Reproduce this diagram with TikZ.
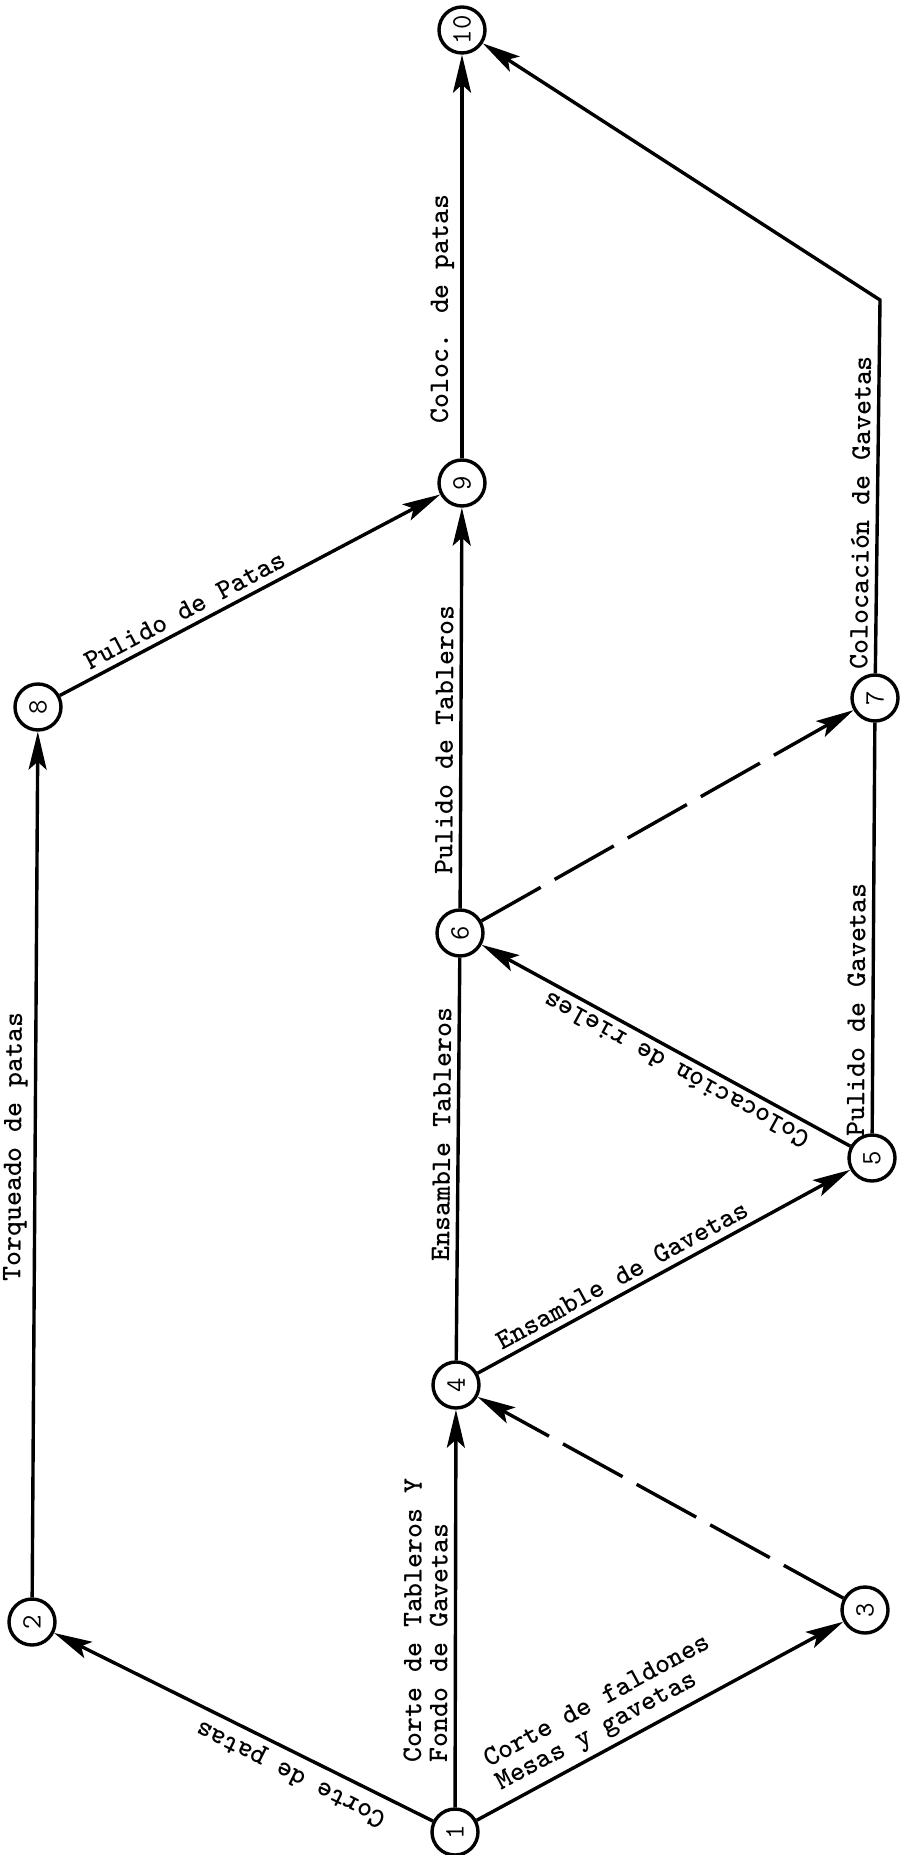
\documentclass[tikz,border=0pt]{standalone}
\usepackage{fontspec}
\usetikzlibrary{arrows.meta}

\tikzset{
    event/.style={circle, draw, line width=1.7pt, minimum size=23pt, inner sep=0pt, rotate=90,
        font=\ttfamily\fontsize{14}{14}\selectfont},
    act/.style={line width=1.7pt, -{Stealth[length=19pt,width=9pt,inset=4pt]}},
    dummy/.style={act, dash pattern=on 34pt off 8pt},
    plain/.style={line width=1.7pt},
    lbl/.style={sloped, allow upside down, inner sep=3pt, align=left,
        font=\ttfamily\bfseries\fontsize{14.2}{13}\selectfont}
}

\begin{document}
\begin{tikzpicture}[x=0.5pt, y=-0.5pt]
    \useasboundingbox (0,0) rectangle (910,1855);

    % Events
    \node (n1) [event] at (455,1832) {1};
    \node (n2) [event] at (32,1622) {2};
    \node (n3) [event] at (865,1610) {3};
    \node (n4) [event] at (456,1385) {4};
    \node (n5) [event] at (872,1158) {5};
    \node (n6) [event] at (460,933) {6};
    \node (n7) [event] at (875,698) {7};
    \node (n8) [event] at (38,707) {8};
    \node (n9) [event] at (462,483) {9};
    \node (n10) [event] at (462,30) {10};
    \coordinate (bend) at (880,300);

    % Activities
    \draw[act] (n1) -- node[lbl, above, pos=0.35] {Corte de patas} (n2);
    \draw[act] (n1) -- node[lbl, above, pos=0.39] {Corte de faldones\\Mesas y gavetas} (n3);
    \draw[act] (n1) -- node[lbl, above, pos=0.47] {Corte de Tableros Y\\Fondo de Gavetas} (n4);
    \draw[dummy] (n3) -- (n4);
    \draw[act] (n4) -- node[lbl, above, pos=0.41] {Ensamble de Gavetas} (n5);
    \draw[plain] (n4) -- node[lbl, above, pos=0.56] {Ensamble Tableros} (n6);
    \draw[act] (n5) -- node[lbl, above, pos=0.45] {Colocación de rieles} (n6);
    \draw[plain] (n5) -- node[lbl, above, pos=0.3] {Pulido de Gavetas} (n7);
    \draw[dummy] (n6) -- (n7);
    \draw[act] (n6) -- node[lbl, above, pos=0.42] {Pulido de Tableros} (n9);
    \draw[act] (n2) -- node[lbl, above, pos=0.52] {Torqueado de patas} (n8);
    \draw[act] (n8) -- node[lbl, above, pos=0.35] {Pulido de Patas} (n9);
    \draw[act] (n9) -- node[lbl, above, pos=0.37] {Coloc. de patas} (n10);
    \draw[act] (n7) -- node[lbl, above, pos=0.43] {Colocación de Gavetas} (bend) -- (n10);
\end{tikzpicture}
\end{document}
